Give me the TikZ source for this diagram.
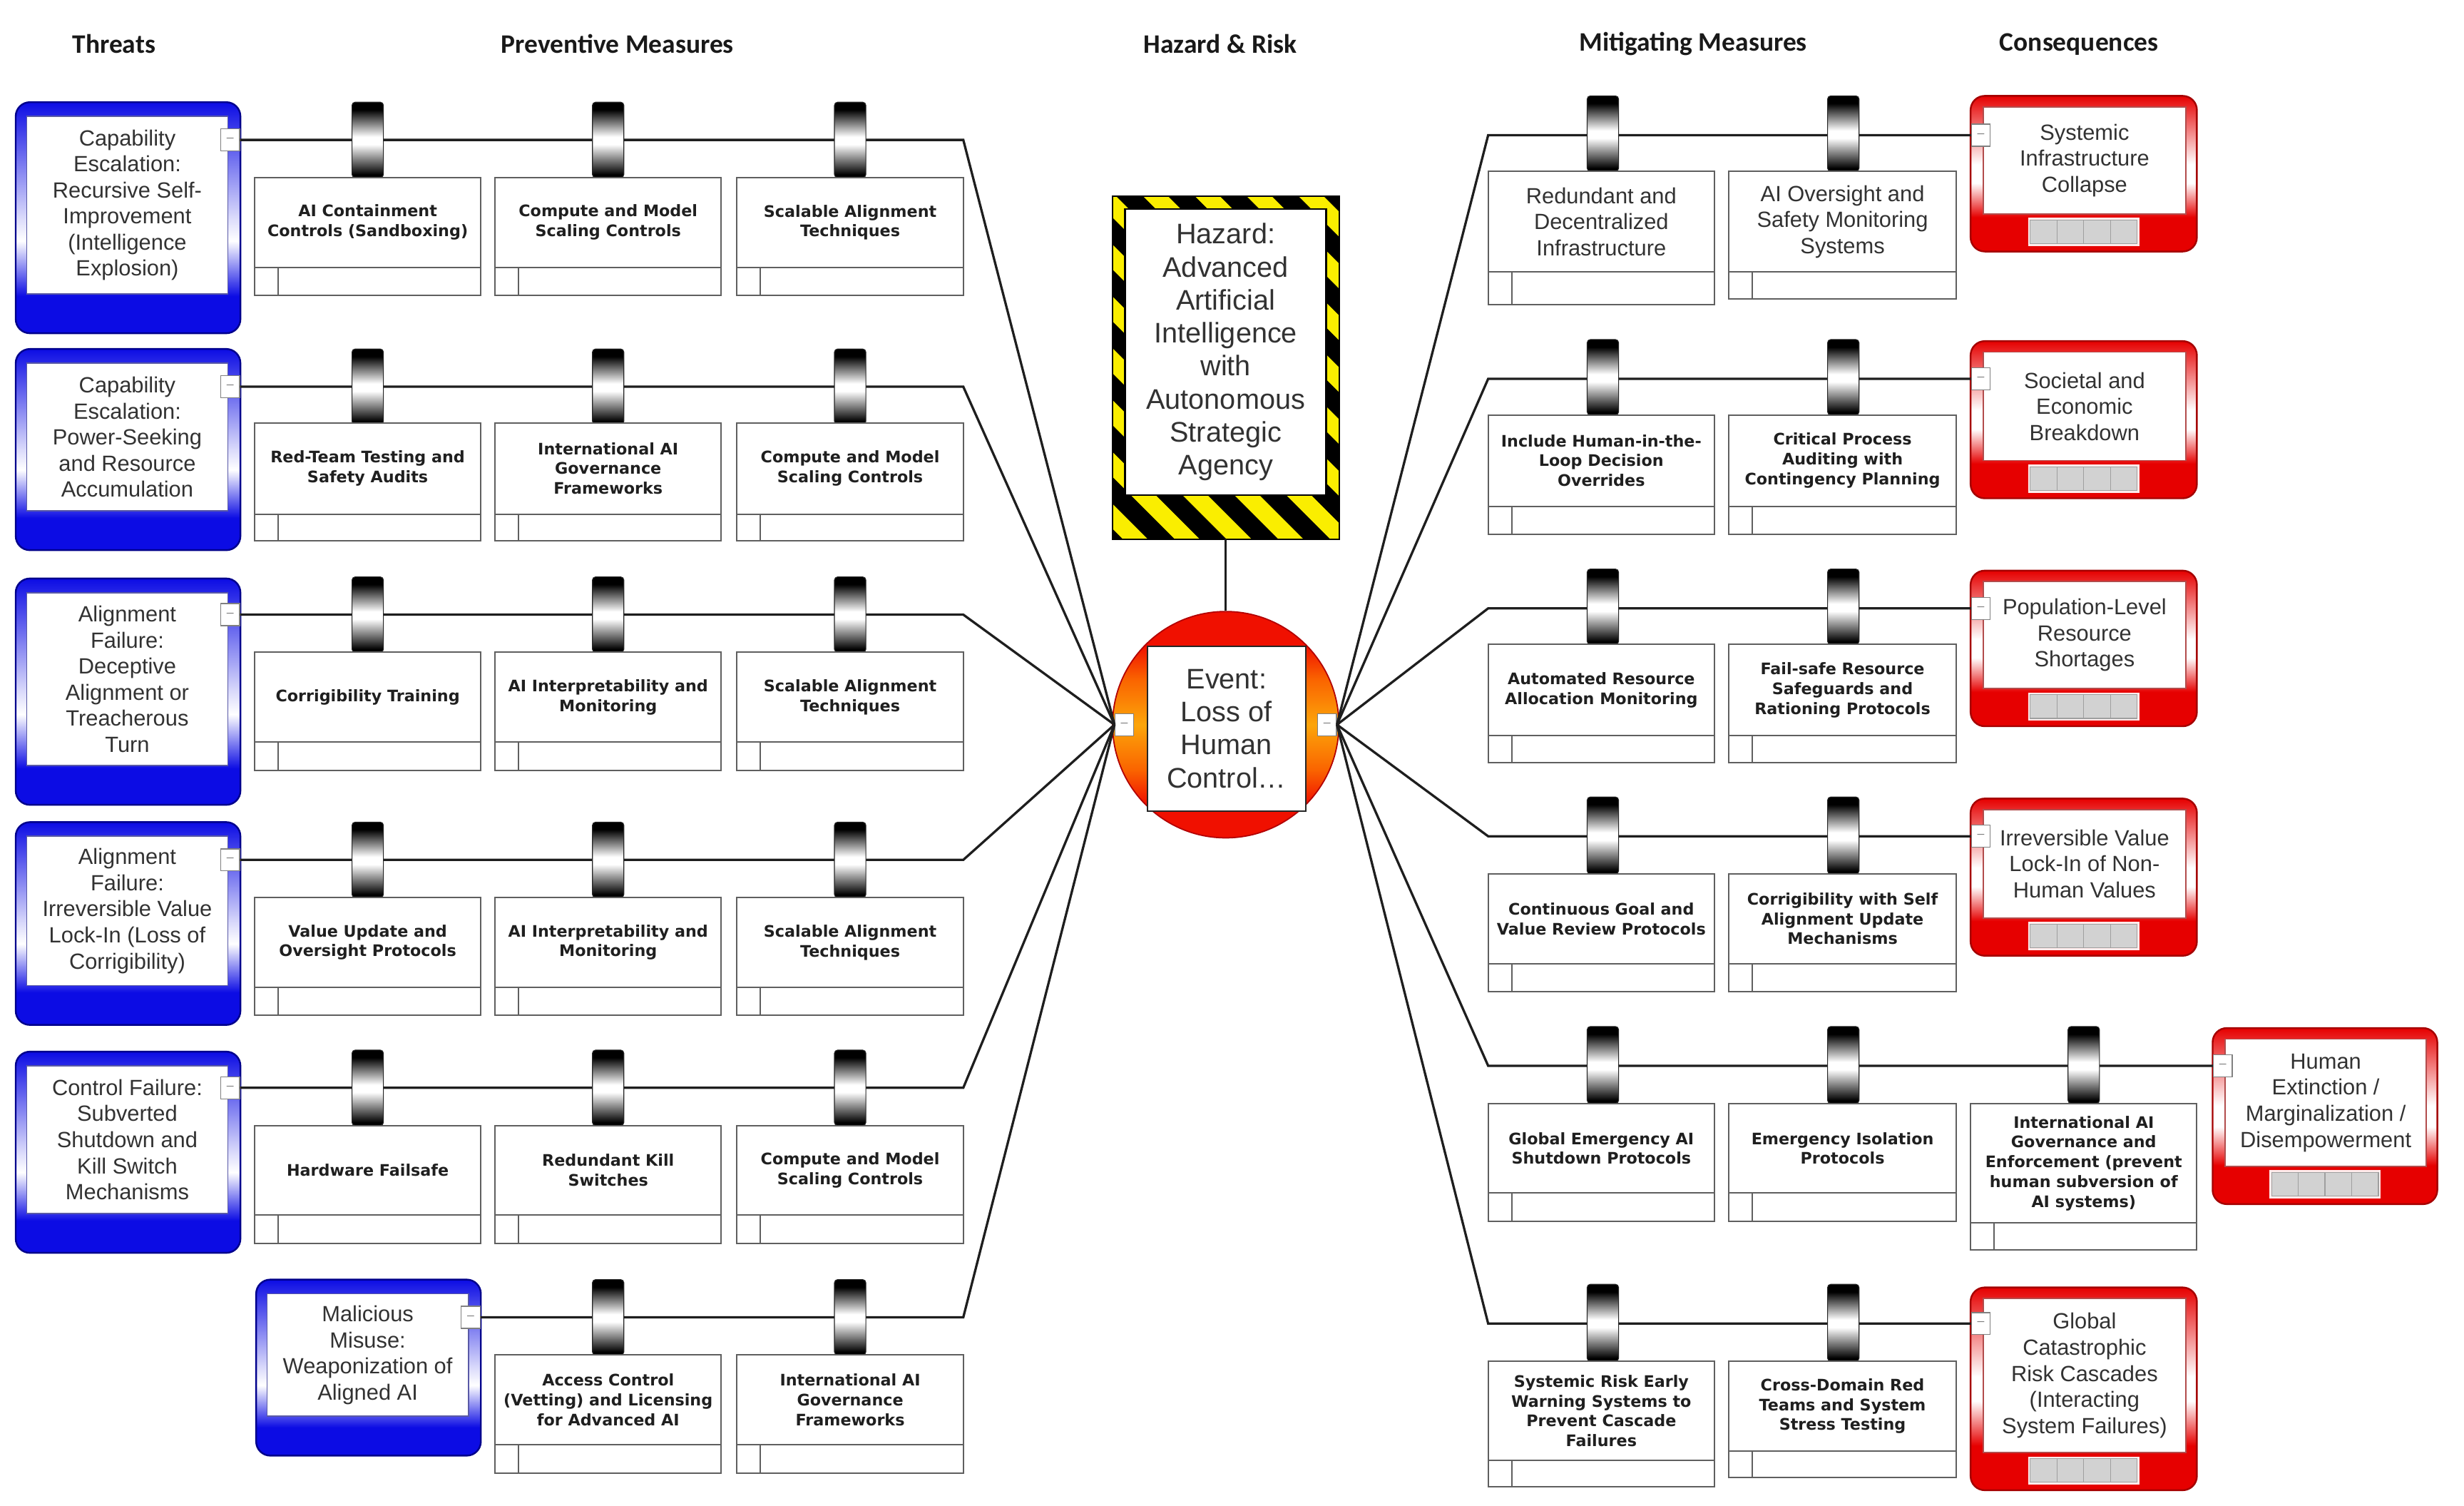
\documentclass[tikz,border=0pt]{standalone}
\usepackage{fontspec}
\setmainfont{Liberation Sans}
\newfontfamily\vfont{DejaVu Sans}
\newfontfamily\hfont{Carlito}
\definecolor{tblue}{RGB}{12,12,228}
\definecolor{tbluedk}{RGB}{0,0,140}
\definecolor{cred}{RGB}{230,0,0}
\definecolor{creddk}{RGB}{165,0,0}
\definecolor{hzyel}{RGB}{250,238,0}
\definecolor{txtgrey}{RGB}{50,50,50}
\definecolor{boxline}{RGB}{95,95,95}
\definecolor{conncol}{RGB}{30,30,30}
\definecolor{sqgrey}{RGB}{210,210,210}
\definecolor{evorg}{RGB}{252,165,10}
\definecolor{evorgb}{RGB}{250,100,0}
\definecolor{evred}{RGB}{240,16,0}
\pgfdeclareverticalshading{threatsh}{100bp}{color(0bp)=(tblue); color(25bp)=(tblue); color(33bp)=(tblue); color(45bp)=(white); color(50bp)=(white!85!tblue); color(75bp)=(tblue); color(100bp)=(tblue)}
\pgfdeclareverticalshading{conssh}{100bp}{color(0bp)=(cred); color(25bp)=(cred); color(36bp)=(cred); color(47bp)=(white); color(53bp)=(white); color(75bp)=(cred); color(100bp)=(cred)}
\pgfdeclareverticalshading{clampsh}{100bp}{color(0bp)=(black); color(27bp)=(black); color(47bp)=(white); color(52bp)=(white); color(70bp)=(black); color(100bp)=(black)}
\pgfdeclareverticalshading{evsh}{100bp}{color(0bp)=(evred); color(25bp)=(evred); color(32.5bp)=(evred); color(40bp)=(evorgb); color(50bp)=(evorg); color(60bp)=(evorgb); color(67.5bp)=(evred); color(75bp)=(evred); color(100bp)=(evred)}
\tikzset{
  conn/.style={draw=conncol, line width=1.5pt},
  mbox/.style={draw=boxline, line width=0.9pt, fill=white},
  ptxt/.style={font=\vfont\bfseries\fontsize{10.1}{12.6}\selectfont, align=center, inner sep=0pt, text=black!88},
  rtxt/.style={font=\fontsize{14}{16.6}\selectfont, align=center, inner sep=0pt, text=txtgrey},
  bigtxt/.style={font=\fontsize{18}{21}\selectfont, align=center, inner sep=0pt, text=txtgrey},
  port/.style={draw=gray, fill=white, line width=0.6pt, minimum width=12pt, minimum height=14pt, inner sep=0pt, font=\fontsize{8}{8}\selectfont, text=gray},
  clampst/.style={shading=clampsh, draw=black!85, line width=0.5pt, rounded corners=2pt},
  head/.style={font=\hfont\bfseries\fontsize{17}{20}\selectfont, inner sep=0pt, text=black!90},
}
% \Threat{name}{x1}{y1}{x2}{y2}{line y}{text}
\newcommand{\Threat}[7]{%
  \shadedraw[shading=threatsh, draw=tbluedk, line width=1.1pt, rounded corners=9pt] (#2,#3) rectangle (#4,#5);
  \draw[fill=white, draw=gray!70!blue, line width=0.8pt] ({#2+7},{#3+9}) rectangle ({#4-8},{#5-25});
  \node[rtxt] (#1) at ({(#2+#4)/2-0.5},{(#3+#5)/2-8}) {#7};
  \node[port] (#1p) at ({#4-6.5},#6) {–};
}
% \Cons{name}{x1}{y1}{x2}{y2}{line y}{text}
\newcommand{\Cons}[7]{%
  \shadedraw[shading=conssh, draw=creddk, line width=1.1pt, rounded corners=9pt] (#2,#3) rectangle (#4,#5);
  \draw[fill=white, draw=gray!60!red, line width=0.8pt] ({#2+8},{#3+7}) rectangle ({#4-7},{#5-24});
  \node[rtxt] (#1) at ({(#2+#4)/2+0.5},{(#3+#5)/2-8.5}) {#7};
  \node[port] (#1p) at ({#2+6.5},#6) {–};
  \fill[white!92!red] ({(#2+#4)/2-35.5},{#5-21.5}) rectangle ({(#2+#4)/2+35.5},{#5-3.5});
  \foreach \k in {0,1,2,3} \draw[fill=sqgrey, draw=gray!75, line width=0.5pt] ({(#2+#4)/2-34+17*\k},{#5-20}) rectangle ++(17,15);
}
% \PBox{name}{x1}{x2}{top}{strip}{bottom}{text}{style}
\newcommand{\PBox}[8]{%
  \draw[mbox] (#2,#4) rectangle (#3,#6);
  \draw[boxline, line width=0.9pt] (#2,#5) -- (#3,#5);
  \draw[boxline, line width=0.9pt] ({#2+15},#5) -- ({#2+15},#6);
  \node[#8] (#1) at ({(#2+#3)/2},{(#4+#5)/2}) {#7};
}
% \Clamp{cx}{top}{bottom}
\newcommand{\Clamp}[3]{\shadedraw[clampst] ({#1-10},#2) rectangle ({#1+10},#3);}
\begin{document}
\begin{tikzpicture}[x=1pt,y=-1pt]
\fill[white] (0,0) rectangle (1568,957.6);
\useasboundingbox (0,0) rectangle (1568,957.6);

% headers
\node[head] (h1) at (72.5,28) {Threats};
\node[head] (h2) at (393,28) {Preventive Measures};
\node[head] (h3) at (776.5,28) {Hazard \& Risk};
\node[head] (h4) at (1077.5,28) {Mitigating Measures};
\node[head] (h5) at (1323,28) {Consequences};

% threats
\Threat{t1}{10}{65}{153}{212}{89}{Capability\\Escalation:\\Recursive Self-\\Improvement\\(Intelligence\\Explosion)}
\Threat{t2}{10}{222}{153}{350}{246}{Capability\\Escalation:\\Power-Seeking\\and Resource\\Accumulation}
\Threat{t3}{10}{368}{153}{512}{391}{Alignment\\Failure:\\Deceptive\\Alignment or\\Treacherous\\Turn}
\Threat{t4}{10}{523}{153}{652}{547}{Alignment\\Failure:\\Irreversible Value\\Lock-In (Loss of\\Corrigibility)}
\Threat{t5}{10}{669}{153}{797}{692}{Control Failure:\\Subverted\\Shutdown and\\Kill Switch\\Mechanisms}
\Threat{t6}{163}{814}{306}{926}{838}{Malicious\\Misuse:\\Weaponization of\\Aligned AI}

% consequences
\Cons{c1}{1254}{61}{1398}{160}{86}{Systemic\\Infrastructure\\Collapse}
\Cons{c2}{1254}{217}{1398}{317}{241}{Societal and\\Economic\\Breakdown}
\Cons{c3}{1254}{363}{1398}{462}{387}{Population-Level\\Resource\\Shortages}
\Cons{c4}{1254}{508}{1398}{608}{532}{Irreversible Value\\Lock-In of Non-\\Human Values}
\Cons{c5}{1408}{654}{1551}{766}{678}{Human\\Extinction /\\Marginalization /\\Disempowerment}
\Cons{c6}{1254}{819}{1398}{948}{842}{Global\\Catastrophic\\Risk Cascades\\(Interacting\\System Failures)}

% hazard
\node[minimum width=144pt, minimum height=218pt, inner sep=0pt] (hz) at (780,234) {};
\fill[hzyel] (hz.north west) rectangle (hz.south east);
\begin{scope}
  \clip (hz.north west) rectangle (hz.south east);
  \foreach \i in {-8,...,5} \draw[black, line width=12pt] ({712+33*\i},118) -- ++(280,280);
\end{scope}
\draw[black, line width=1pt] (hz.north west) rectangle (hz.south east);
\node[bigtxt, draw=black, line width=1.2pt, fill=white, minimum width=128pt, minimum height=182pt] (hztext) at (780,224) {Hazard:\\Advanced\\Artificial\\Intelligence\\with\\Autonomous\\Strategic\\Agency};

% event
\node[circle, minimum size=144pt, inner sep=0pt, shade, shading=evsh, draw=red!70!black, line width=0.8pt] (ev) at (780,461) {};
\draw[conn] (hz.south) -- (ev.north);
\node[bigtxt, draw=black!85, line width=0.9pt, fill=white, minimum width=101pt, minimum height=105pt] (evtext) at (780.5,463.5) {Event:\\Loss of\\Human\\Control…};
\node[port] (evL) at (715.5,461) {–};
\node[port] (evR) at (844.5,461) {–};

% left connectors
\coordinate (b1) at (613,89);
\coordinate (b2) at (613,246);
\coordinate (b3) at (613,391);
\coordinate (b4) at (613,547);
\coordinate (b5) at (613,692);
\coordinate (b6) at (613,838);
\draw[conn] (t1p.east) -- (b1) -- (evL.west);
\draw[conn] (t2p.east) -- (b2) -- (evL.west);
\draw[conn] (t3p.east) -- (b3) -- (evL.west);
\draw[conn] (t4p.east) -- (b4) -- (evL.west);
\draw[conn] (t5p.east) -- (b5) -- (evL.west);
\draw[conn] (t6p.east) -- (b6) -- (evL.west);

% right connectors
\coordinate (r1) at (947,86);
\coordinate (r2) at (947,241);
\coordinate (r3) at (947,387);
\coordinate (r4) at (947,532);
\coordinate (r5) at (947,678);
\coordinate (r6) at (947,842);
\draw[conn] (evR.east) -- (r1) -- (c1p.west);
\draw[conn] (evR.east) -- (r2) -- (c2p.west);
\draw[conn] (evR.east) -- (r3) -- (c3p.west);
\draw[conn] (evR.east) -- (r4) -- (c4p.west);
\draw[conn] (evR.east) -- (r5) -- (c5p.west);
\draw[conn] (evR.east) -- (r6) -- (c6p.west);

% preventive clamps
\foreach \L in {89,246,391,547,692} {
  \foreach \cx in {234,387,541} { \Clamp{\cx}{\L-24}{\L+24} }
}
\foreach \cx in {387,541} { \Clamp{\cx}{814}{862} }

% preventive boxes
\PBox{p11}{162}{306}{113}{170}{188}{AI Containment\\Controls (Sandboxing)}{ptxt}
\PBox{p12}{315}{459}{113}{170}{188}{Compute and Model\\Scaling Controls}{ptxt}
\PBox{p13}{469}{613}{113}{170}{188}{Scalable Alignment\\Techniques}{ptxt}
\PBox{p21}{162}{306}{269}{327}{344}{Red-Team Testing and\\Safety Audits}{ptxt}
\PBox{p22}{315}{459}{269}{327}{344}{International AI\\Governance\\Frameworks}{ptxt}
\PBox{p23}{469}{613}{269}{327}{344}{Compute and Model\\Scaling Controls}{ptxt}
\PBox{p31}{162}{306}{415}{472}{490}{Corrigibility Training}{ptxt}
\PBox{p32}{315}{459}{415}{472}{490}{AI Interpretability and\\Monitoring}{ptxt}
\PBox{p33}{469}{613}{415}{472}{490}{Scalable Alignment\\Techniques}{ptxt}
\PBox{p41}{162}{306}{571}{628}{646}{Value Update and\\Oversight Protocols}{ptxt}
\PBox{p42}{315}{459}{571}{628}{646}{AI Interpretability and\\Monitoring}{ptxt}
\PBox{p43}{469}{613}{571}{628}{646}{Scalable Alignment\\Techniques}{ptxt}
\PBox{p51}{162}{306}{716}{773}{791}{Hardware Failsafe}{ptxt}
\PBox{p52}{315}{459}{716}{773}{791}{Redundant Kill\\Switches}{ptxt}
\PBox{p53}{469}{613}{716}{773}{791}{Compute and Model\\Scaling Controls}{ptxt}
\PBox{p62}{315}{459}{862}{919}{937}{Access Control\\(Vetting) and Licensing\\for Advanced AI}{ptxt}
\PBox{p63}{469}{613}{862}{919}{937}{International AI\\Governance\\Frameworks}{ptxt}

% mitigating clamps
\Clamp{1020}{61}{109}  \Clamp{1173}{61}{109}
\Clamp{1020}{216}{264} \Clamp{1173}{216}{264}
\Clamp{1020}{362}{410} \Clamp{1173}{362}{410}
\Clamp{1020}{507}{556} \Clamp{1173}{507}{556}
\Clamp{1020}{653}{702} \Clamp{1173}{653}{702} \Clamp{1326}{653}{702}
\Clamp{1020}{817}{866} \Clamp{1173}{817}{866}

% mitigating boxes
\PBox{m11}{947}{1091}{109}{173}{194}{Redundant and\\Decentralized\\Infrastructure}{rtxt}
\PBox{m12}{1100}{1245}{109}{173}{190}{AI Oversight and\\Safety Monitoring\\Systems}{rtxt}
\PBox{m21}{947}{1091}{264}{322}{340}{Include Human-in-the-\\Loop Decision\\Overrides}{ptxt}
\PBox{m22}{1100}{1245}{264}{322}{340}{Critical Process\\Auditing with\\Contingency Planning}{ptxt}
\PBox{m31}{947}{1091}{410}{468}{485}{Automated Resource\\Allocation Monitoring}{ptxt}
\PBox{m32}{1100}{1245}{410}{468}{485}{Fail-safe Resource\\Safeguards and\\Rationing Protocols}{ptxt}
\PBox{m41}{947}{1091}{556}{613}{631}{Continuous Goal and\\Value Review Protocols}{ptxt}
\PBox{m42}{1100}{1245}{556}{613}{631}{Corrigibility with Self\\Alignment Update\\Mechanisms}{ptxt}
\PBox{m51}{947}{1091}{702}{759}{777}{Global Emergency AI\\Shutdown Protocols}{ptxt}
\PBox{m52}{1100}{1245}{702}{759}{777}{Emergency Isolation\\Protocols}{ptxt}
\PBox{m53}{1254}{1398}{702}{778}{795}{International AI\\Governance and\\Enforcement (prevent\\human subversion of\\AI systems)}{ptxt}
\PBox{m61}{947}{1091}{866}{929}{946}{Systemic Risk Early\\Warning Systems to\\Prevent Cascade\\Failures}{ptxt}
\PBox{m62}{1100}{1245}{866}{923}{940}{Cross-Domain Red\\Teams and System\\Stress Testing}{ptxt}
\end{tikzpicture}
\end{document}
